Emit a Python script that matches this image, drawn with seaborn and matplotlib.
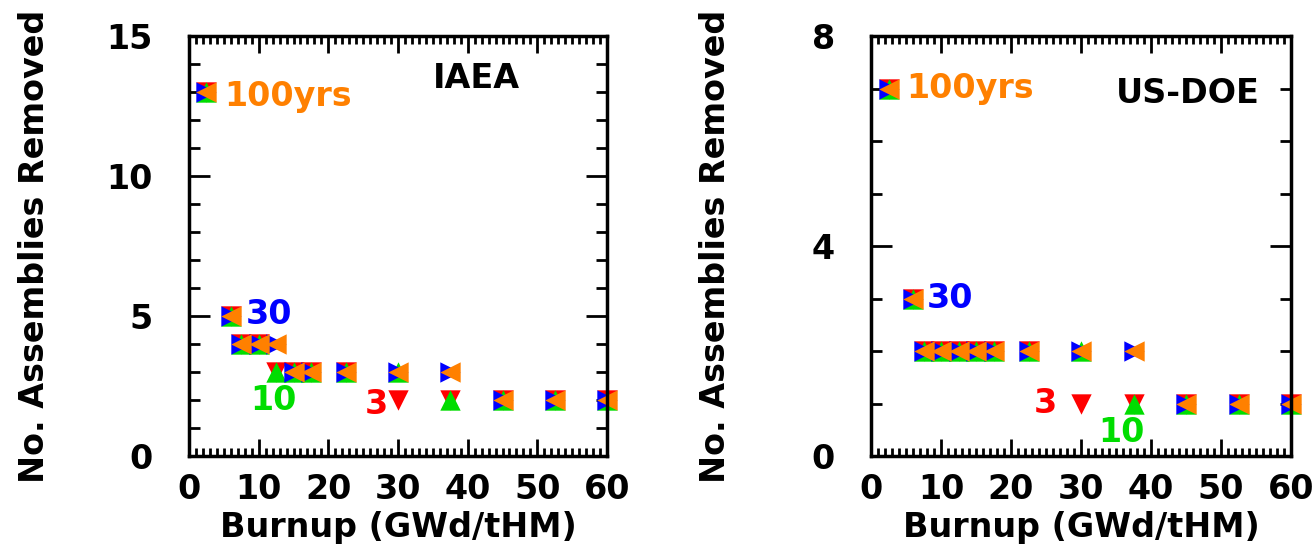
import matplotlib
matplotlib.use("Agg")
import matplotlib.pyplot as plt
import seaborn as sns
import pandas as pd
from matplotlib.ticker import MultipleLocator

sns.set_theme(style="white")
plt.rcParams['font.family'] = ['DejaVu Sans']
plt.rcParams['font.weight'] = 'bold'
plt.rcParams['text.color'] = 'black'
plt.rcParams['axes.labelcolor'] = 'black'
plt.rcParams['xtick.color'] = 'black'
plt.rcParams['ytick.color'] = 'black'

# ---- data ----
burnup = [2.5, 6, 7.5, 10, 12.5, 15, 17.5, 22.5, 30, 37.5, 45, 52.5, 60]

iaea_3yr   = [13, 5, 4, 4, 3, 3, 3, 3, 2, 2, 2, 2, 2]
iaea_10yr  = [13, 5, 4, 4, 3, 3, 3, 3, 3, 2, 2, 2, 2]
iaea_30yr  = [13, 5, 4, 4, 4, 3, 3, 3, 3, 3, 2, 2, 2]
iaea_100yr = [13, 5, 4, 4, 4, 3, 3, 3, 3, 3, 2, 2, 2]

doe_3yr   = [7, 3, 2, 2, 2, 2, 2, 2, 1, 1, 1, 1, 1]
doe_10yr  = [7, 3, 2, 2, 2, 2, 2, 2, 2, 1, 1, 1, 1]
doe_30yr  = [7, 3, 2, 2, 2, 2, 2, 2, 2, 2, 1, 1, 1]
doe_100yr = [7, 3, 2, 2, 2, 2, 2, 2, 2, 2, 1, 1, 1]

series_labels = ["3", "10", "30", "100yrs"]
series_colors = ["#FF0000", "#00DD00", "#0000FF", "#FF8000"]
series_markers = ["v", "^", ">", "<"]

fig = plt.figure(figsize=(13.16, 5.48), dpi=100)
W, H = 1316, 548
ax1 = fig.add_axes([189 / W, 1 - 456 / H, 418 / W, 420 / H])
ax2 = fig.add_axes([871 / W, 1 - 456 / H, 420 / W, 420 / H])

FS = 24


def draw(ax, ys, ymax, ymajor, title, title_xy, label_pos):
    for y, col, mk in zip(ys, series_colors, series_markers):
        df = pd.DataFrame({"x": burnup, "y": y})
        sns.scatterplot(data=df, x="x", y="y", ax=ax, color=col, marker=mk,
                        s=215, linewidth=0, clip_on=False, legend=False)
    ax.set_xlim(0, 60)
    ax.set_ylim(0, ymax)
    ax.xaxis.set_major_locator(MultipleLocator(10))
    ax.xaxis.set_minor_locator(MultipleLocator(1))
    ax.yaxis.set_major_locator(MultipleLocator(ymajor))
    ax.yaxis.set_minor_locator(MultipleLocator(1))
    ax.tick_params(axis="both", which="both", direction="in", top=True, right=True,
                   bottom=True, left=True, colors="black", width=2)
    ax.tick_params(axis="y", which="major", length=15, pad=26, labelsize=FS)
    ax.tick_params(axis="y", which="minor", length=8)
    ax.tick_params(axis="x", which="major", length=12, pad=12, labelsize=FS)
    ax.tick_params(axis="x", which="minor", length=6)
    for lab in ax.get_xticklabels() + ax.get_yticklabels():
        lab.set_fontweight("bold")
    for sp in ax.spines.values():
        sp.set_linewidth(2.5)
        sp.set_color("black")
        sp.set_visible(True)
    ax.set_xlabel("Burnup (GWd/tHM)", fontsize=FS, fontweight="bold", color="black")
    ax.set_ylabel("No. Assemblies Removed", fontsize=FS, fontweight="bold", color="black")
    ax.xaxis.set_label_coords(0.5, -0.132)
    ax.yaxis.set_label_coords(-0.33, 0.5)
    ax.text(title_xy[0], title_xy[1], title, fontsize=FS, fontweight="bold",
            color="black", ha="center", va="center")
    for (lx, ly), txt, col in zip(label_pos, series_labels, series_colors):
        ax.text(lx, ly, txt, fontsize=FS, fontweight="bold", color=col,
                ha="left", va="center")


draw(ax1, [iaea_3yr, iaea_10yr, iaea_30yr, iaea_100yr], 15, 5, "IAEA", (41.3, 13.5),
     [(25.2, 1.85), (8.8, 2.0), (8.2, 5.05), (5.1, 12.85)])
draw(ax2, [doe_3yr, doe_10yr, doe_30yr, doe_100yr], 8, 4, "US-DOE", (45.2, 6.9),
     [(23.3, 1.0), (32.4, 0.45), (7.9, 3.0), (5.0, 7.0)])

fig.savefig("out.png", dpi=100, facecolor="white")
